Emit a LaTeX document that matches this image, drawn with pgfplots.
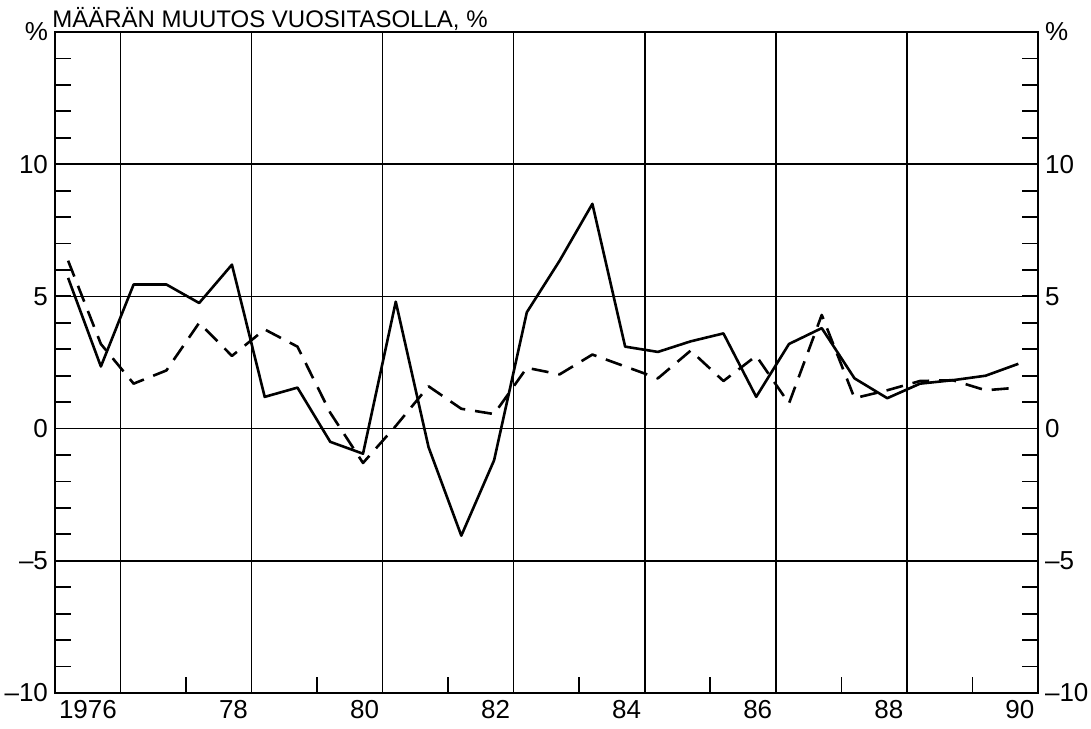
\documentclass[border=0pt]{standalone}
\usepackage{pgfplots}
\pgfplotsset{compat=1.18}
\usepackage{fontspec}
\setmainfont{Liberation Sans}

\begin{document}
\begin{tikzpicture}
\useasboundingbox (0,0) rectangle (545.5pt,364pt);
\begin{axis}[
  at={(27.5pt,17.5pt)}, anchor=south west,
  scale only axis, width=491.5pt, height=330.5pt,
  xmin=1976, xmax=1991, ymin=-10, ymax=15,
  xtick={1977,1979,1981,1983,1985,1987,1989}, xticklabels={},
  minor xtick={1978,1980,1982,1984,1986,1988,1990},
  xtick pos=lower, ytick pos=both,
  extra x ticks={1976.95,1978.95,1980.95,1982.95,1984.95,1986.95,1988.95,1990.95},
  extra x tick labels={1976,78,80,82,84,86,88,90},
  extra x tick style={grid=none, major tick length=0pt,
    xticklabel style={anchor=north east, inner xsep=0pt}},
  ytick={-10,-5,0,5,10,15}, yticklabels={--10,--5,0,5,10,\%},
  minor ytick={-9,-8,...,14},
  grid=major, major grid style={black, line width=0.7pt},
  major tick length=0pt, minor tick length=8pt,
  tick style={black, line width=0.9pt},
  axis line style={line width=1pt},
  tick label style={font=\fontsize{13}{13}\selectfont},
  /pgf/number format/assume math mode=true,
]
% solid series
\addplot[black, line width=1.3pt, line join=round] coordinates {
 (1976.2,5.7) (1976.7,2.35) (1977.2,5.45) (1977.7,5.45) (1978.2,4.75) (1978.7,6.2)
 (1979.2,1.2) (1979.7,1.55) (1980.2,-0.5) (1980.7,-0.95) (1981.2,4.8) (1981.7,-0.7)
 (1982.2,-4.05) (1982.7,-1.2) (1983.2,4.4) (1983.7,6.35) (1984.2,8.5) (1984.7,3.1)
 (1985.2,2.9) (1985.7,3.3) (1986.2,3.6) (1986.7,1.2) (1987.2,3.2) (1987.7,3.8)
 (1988.2,1.9) (1988.7,1.15) (1989.2,1.7) (1989.7,1.83) (1990.2,2.0) (1990.7,2.45)
};
% dashed series
\addplot[black, line width=1.3pt, line join=round, dash pattern=on 8.5pt off 5pt] coordinates {
 (1976.2,6.35) (1976.7,3.2) (1977.2,1.7) (1977.7,2.2) (1978.2,4.0) (1978.7,2.75)
 (1979.2,3.75) (1979.7,3.1) (1980.2,0.6) (1980.7,-1.3) (1981.2,0.1) (1981.7,1.6)
 (1982.2,0.75) (1982.7,0.55) (1983.2,2.3) (1983.7,2.05) (1984.2,2.8) (1984.7,2.35)
 (1985.2,1.9) (1985.7,2.95) (1986.2,1.8) (1986.7,2.75) (1987.2,0.95) (1987.7,4.3)
 (1988.2,1.15) (1988.7,1.45) (1989.2,1.8) (1989.7,1.83) (1990.2,1.45) (1990.7,1.55)
};
\end{axis}
% right-hand tick labels
\begin{axis}[
  at={(27.5pt,17.5pt)}, anchor=south west,
  scale only axis, width=491.5pt, height=330.5pt,
  xmin=1976, xmax=1991, ymin=-10, ymax=15,
  xtick=\empty,
  ytick={-10,-5,0,5,10,15}, yticklabels={--10,--5,0,5,10,\%},
  yticklabel pos=right,
  axis line style={draw=none}, tick style={draw=none},
  tick label style={font=\fontsize{13}{13}\selectfont},
]
\end{axis}
\node[anchor=base west, font=\fontsize{12}{12}\selectfont, inner sep=0pt] at (26pt,350pt) {MÄÄRÄN MUUTOS VUOSITASOLLA, \%};
\end{tikzpicture}
\end{document}
